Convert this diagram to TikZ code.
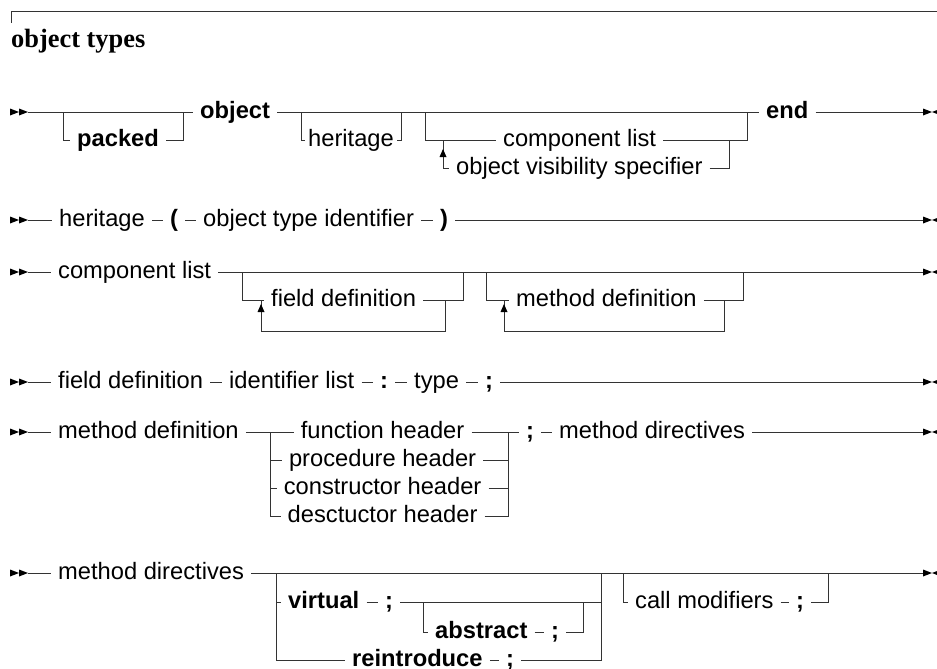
\documentclass[tikz,border=0pt]{standalone}
\usepackage{fontspec}
\setmainfont{Liberation Serif}
\newfontfamily\hv{Liberation Sans}
\usetikzlibrary{calc}
\tikzset{
  startmk/.pic={\fill[black] (0,-3.5) -- (9,0) -- (0,3.5) -- cycle;
                \fill[black] (9,-3.5) -- (18,0) -- (9,3.5) -- cycle;},
  endmk/.pic={\fill[black] (-9,-3.5) -- (0,0) -- (-9,3.5) -- cycle;
              \fill[black] (9,-3.5) -- (0,0) -- (9,3.5) -- cycle;},
  uparr/.pic={\fill[black] (0,0) -- (-3.5,8) -- (3.5,8) -- cycle;},
  ln/.style={draw=black!80, line width=0.9pt},
  t/.style={font=\hv\fontsize{23.7}{28}\selectfont, inner xsep=7pt, inner ysep=0pt,
            text height=17.5pt, text depth=5.2pt, anchor=west, text=black},
  kw/.style={t, font=\hv\bfseries\fontsize{23.7}{28}\selectfont},
}
\begin{document}
\begin{tikzpicture}[x=1pt,y=-1pt]
\useasboundingbox (0,0) rectangle (937,669);

% frame and title
\coordinate (fr0) at (11,11);
\coordinate (fr1) at (11,23);
\coordinate (fr2) at (937,11);
\draw[ln] (fr1) -- (fr0) -- (fr2);
\node[font=\bfseries\fontsize{26.4}{30}\selectfont, anchor=base west, inner sep=0pt] (title) at (11,47.6) {object types};

% ---------- row 1 : object type ----------
\pic at (10,112) {startmk};
\coordinate (a0) at (28,112);
\node[kw] (obj) at (193,112) {object};
\node[kw] (pk) at (70,140) {packed};
\coordinate (p1) at (63,112);
\coordinate (p2) at (183,112);
\draw[ln] (a0) -- (obj);
\draw[ln] (p1) |- (pk.west);
\draw[ln] (pk.east) -| (p2);
\node[t, inner xsep=3pt] (her1) at (305,140) {heritage};
\coordinate (h1) at (301,112);
\coordinate (h2) at (401.7,112);
\draw[ln] (h1) |- (her1.west);
\draw[ln] (her1.east) -| (h2);
\node[t] (cl1) at (496,140) {component list};
\node[t] (ovs) at (449,168) {object visibility specifier};
\coordinate (c1) at (425,112);
\coordinate (c2) at (747,112);
\coordinate (c3) at (443,168);
\coordinate (c3t) at (443,140);
\coordinate (c4) at (729,140);
\draw[ln] (c1) |- (cl1.west);
\draw[ln] (cl1.east) -| (c2);
\draw[ln] (c3t) -- (c3) -- (ovs.west);
\draw[ln] (ovs.east) -| (c4);
\pic at (443,149) {uparr};
\node[kw] (endk) at (759,112) {end};
\draw[ln] (obj) -- (endk);
\coordinate (e1) at (923,112);
\draw[ln] (endk) -- (e1);
\pic at (932,112) {endmk};

% ---------- row 2 : heritage ----------
\pic at (10,220) {startmk};
\coordinate (b0) at (28,220);
\node[t] (her) at (52,220) {heritage};
\node[kw] (lp) at (163,220) {(};
\node[t] (oti) at (196,220) {object type identifier};
\node[kw] (rp) at (433,220) {)};
\coordinate (e2) at (923,220);
\draw[ln] (b0) -- (her) -- (lp) -- (oti) -- (rp) -- (e2);
\pic at (932,220) {endmk};

% ---------- row 3 : component list ----------
\pic at (10,272) {startmk};
\coordinate (d0) at (28,272);
\node[t] (cl) at (51,272) {component list};
\coordinate (e3) at (923,272);
\draw[ln] (d0) -- (cl) -- (e3);
\pic at (932,272) {endmk};
% field definition loop
\coordinate (f1) at (242,272);
\coordinate (f2) at (463,272);
\node[t] (fd1) at (264,300) {field definition};
\draw[ln] (f1) |- (fd1.west);
\draw[ln] (fd1.east) -| (f2);
\coordinate (f3) at (445,300);
\coordinate (f4) at (261,300);
\draw[ln] (f3) -- ++(0,31) -| (f4);
\pic at (261,304) {uparr};
% method definition loop
\coordinate (g1) at (486,272);
\coordinate (g2) at (743,272);
\node[t] (md1) at (509,300) {method definition};
\draw[ln] (g1) |- (md1.west);
\draw[ln] (md1.east) -| (g2);
\coordinate (g3) at (724,300);
\coordinate (g4) at (504,300);
\draw[ln] (g3) -- ++(0,31) -| (g4);
\pic at (504,304) {uparr};

% ---------- row 4 : field definition ----------
\pic at (10,382) {startmk};
\coordinate (q0) at (28,382);
\node[t] (fd) at (51,382) {field definition};
\node[t] (il) at (222,382) {identifier list};
\node[kw] (col) at (373,382) {:};
\node[t] (ty) at (407,382) {type};
\node[kw] (sc1) at (478,382) {;};
\coordinate (e4) at (923,382);
\draw[ln] (q0) -- (fd) -- (il) -- (col) -- (ty) -- (sc1) -- (e4);
\pic at (932,382) {endmk};

% ---------- row 5 : method definition ----------
\pic at (10,432) {startmk};
\coordinate (r0) at (28,432);
\node[t] (mdef) at (51,432) {method definition};
\node[t, anchor=center] (fh) at (382.6,432) {function header};
\node[t, anchor=center] (ph) at (382.6,460) {procedure header};
\node[t, anchor=center] (ch) at (382.6,488) {constructor header};
\node[t, anchor=center] (dh) at (382.6,516) {desctuctor header};
\coordinate (j1) at (270,432);
\coordinate (j2) at (508,432);
\node[kw] (sc2) at (519,432) {;};
\node[t] (mdir) at (552,432) {method directives};
\coordinate (e5) at (923,432);
\draw[ln] (r0) -- (mdef) -- (fh) -- (sc2) -- (mdir) -- (e5);
\draw[ln] (j1) |- (ph.west);
\draw[ln] (j1) |- (ch.west);
\draw[ln] (j1) |- (dh.west);
\draw[ln] (ph.east) -| (j2);
\draw[ln] (ch.east) -| (j2);
\draw[ln] (dh.east) -| (j2);
\pic at (932,432) {endmk};

% ---------- row 6 : method directives ----------
\pic at (10,573) {startmk};
\coordinate (s0) at (28,573);
\node[t] (mdr) at (51,573) {method directives};
\coordinate (e6) at (923,573);
\draw[ln] (s0) -- (mdr) -- (e6);
\pic at (932,573) {endmk};
\coordinate (k1) at (276,573);
\coordinate (k2) at (601,573);
\node[kw] (virt) at (281,602) {virtual};
\node[kw] (sc3) at (378,602) {;};
\draw[ln] (k1) |- (virt.west);
\draw[ln] (virt) -- (sc3);
\draw[ln] (sc3.east) -| (k2);
\coordinate (v1) at (423,602);
\coordinate (v2) at (583,602);
\node[kw] (abst) at (428,632) {abstract};
\node[kw] (sc4) at (544,632) {;};
\draw[ln] (v1) |- (abst.west);
\draw[ln] (abst) -- (sc4);
\draw[ln] (sc4.east) -| (v2);
\node[kw] (rei) at (345,660) {reintroduce};
\node[kw] (sc5) at (499,660) {;};
\draw[ln] (k1) |- (rei.west);
\draw[ln] (rei) -- (sc5);
\draw[ln] (sc5.east) -| (k2);
\coordinate (m1) at (623,573);
\coordinate (m2) at (828,573);
\node[t] (cm) at (628,602) {call modifiers};
\node[kw] (sc6) at (789,602) {;};
\draw[ln] (m1) |- (cm.west);
\draw[ln] (cm) -- (sc6);
\draw[ln] (sc6.east) -| (m2);
\end{tikzpicture}
\end{document}
